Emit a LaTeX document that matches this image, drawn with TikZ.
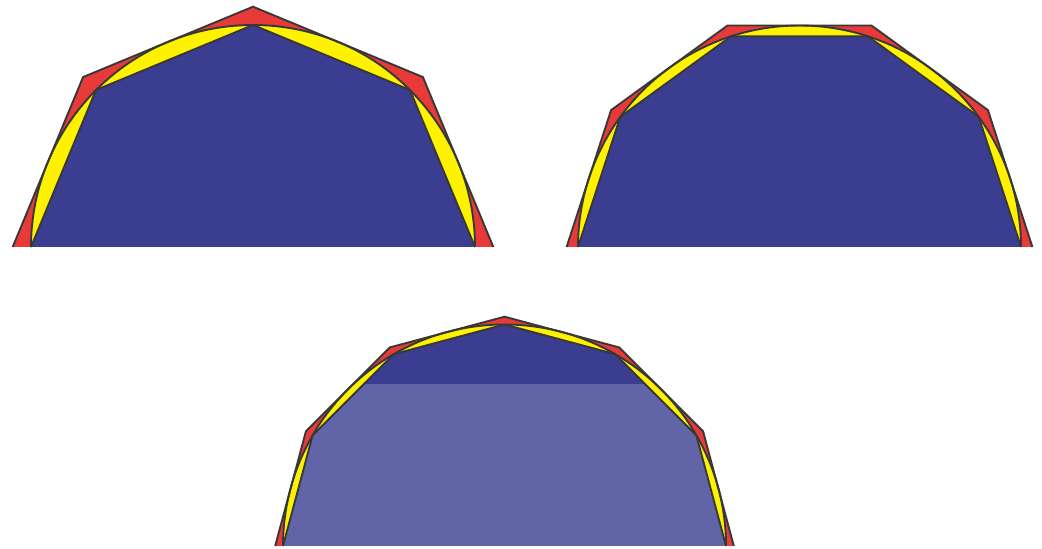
\documentclass[tikz,border=0pt]{standalone}
\definecolor{redc}{HTML}{E93A3A}
\definecolor{yelc}{HTML}{FFF200}
\definecolor{bluec}{HTML}{3B3D91}
\definecolor{lightc}{HTML}{6165A8}
\definecolor{edgec}{HTML}{383838}
\tikzset{edge/.style={draw=edgec,line width=1.9pt,line join=miter}}
\newcommand\innerpath[4]{(#1+#3,#2) \foreach \i in {1,...,#4}{ -- ({#1+#3*cos(\i*180/#4)},{#2+#3*sin(\i*180/#4)}) }}
\newcommand\polyfig[4]{%
  \pgfmathsetmacro\Ro{#3/cos(90/#4)}%
  \fill[redc] \innerpath{#1}{#2}{\Ro}{#4} -- cycle;
  \fill[yelc] ({#1+#3},#2) arc[start angle=0,end angle=180,radius=#3] -- cycle;
  \fill[bluec] \innerpath{#1}{#2}{#3}{#4} -- cycle;
}
\newcommand\polyedges[4]{%
  \pgfmathsetmacro\Ro{#3/cos(90/#4)}%
  \draw[edge] \innerpath{#1}{#2}{\Ro}{#4};
  \draw[edge] ({#1+#3},#2) arc[start angle=0,end angle=180,radius=#3];
  \draw[edge] \innerpath{#1}{#2}{#3}{#4};
}
\begin{document}
\begin{tikzpicture}[x=1pt,y=1pt]
\useasboundingbox (0,0) rectangle (1042,549);
% figure 1
\polyfig{253}{302}{222}{4}
\polyedges{253}{302}{222}{4}
% figure 2
\polyfig{799.5}{302}{221.5}{5}
\polyedges{799.5}{302}{221.5}{5}
% figure 3
\polyfig{504.5}{3}{221.5}{6}
\begin{scope}
  \clip (0,0) rectangle (1042,164);
  \fill[lightc] \innerpath{504.5}{3}{221.5}{6} -- cycle;
\end{scope}
\polyedges{504.5}{3}{221.5}{6}
\end{tikzpicture}
\end{document}
